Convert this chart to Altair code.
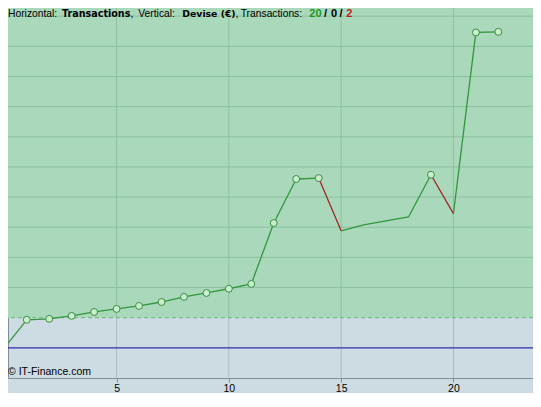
import altair as alt
import pandas as pd

# ---- data (vertical unit: € ) ----
trade_no = list(range(0, 23))
equity = [0, 930, 960, 1060, 1190, 1290, 1390, 1520, 1690, 1820, 1960, 2120,
          4140, 5600, 5630, 3880, 4080, 4210, 4340, 5740, 4450, 10460, 10480]
losing_trades = [15, 20]            # segments ending at these trades are losses
marked_trades = [1, 2, 3, 4, 5, 6, 7, 8, 9, 10, 11, 12, 13, 14, 19, 21, 22]
x_ticks = [5, 10, 15, 20]
start_level = 1000                  # dashed reference line
zero_level = 0                      # blue line
grid_levels = [2000, 3000, 4000, 5000, 6000, 7000, 8000, 9000, 10000, 11000]

W, H = 525, 370
X_DOM = [0.165, 0.165 + W / 22.456]
Y_DOM = [-1000, 11270]

GREEN_BG = "#a9d9ba"
LOW_BG = "#cddce2"
GRID_G = "#8dc09f"
GRID_L = "#a9bbc2"
AXIS_C = "#7e9198"
LINE_G = "#34963f"
LINE_R = "#a3262a"
FONT = "Liberation Sans"
BOLD_FONT = "DejaVu Sans"

xs = alt.Scale(domain=X_DOM, nice=False, zero=False)
ys = alt.Scale(domain=Y_DOM, nice=False, zero=False)

# segments
seg_rows = []
for i in range(1, len(trade_no)):
    seg_rows.append({
        "x": trade_no[i - 1], "y": equity[i - 1],
        "x2": trade_no[i], "y2": equity[i],
        "kind": "loss" if trade_no[i] in losing_trades else "win",
    })
seg_df = pd.DataFrame(seg_rows)
pts_df = pd.DataFrame({"x": [t for t in trade_no if t in marked_trades],
                       "y": [e for t, e in zip(trade_no, equity) if t in marked_trades]})

base = alt.Chart(pd.DataFrame({"d": [0]}))

bg = base.mark_rect(color=GREEN_BG).encode(
    x=alt.X("a:Q", scale=xs, axis=alt.Axis(values=x_ticks, format="d", title=None, grid=False,
                                          tickSize=4, tickColor=AXIS_C, domainColor=AXIS_C,
                                          labelFont=FONT, labelFontSize=10.5, labelColor="#000",
                                          labelPadding=1, labelFlush=False)),
    x2="b:Q",
    y=alt.Y("c:Q", scale=ys, axis=alt.Axis(labels=False, ticks=False, grid=False, title=None,
                                          domainColor=AXIS_C)),
    y2="e:Q",
).transform_calculate(a=str(X_DOM[0]), b=str(X_DOM[1]), c=str(start_level), e=str(Y_DOM[1]))

hgrid = alt.Chart(pd.DataFrame({"y": grid_levels})).mark_rule(color=GRID_G, strokeWidth=1).encode(
    y=alt.Y("y:Q", scale=ys))

vg_df = pd.DataFrame({"x": x_ticks})
vgrid_hi = alt.Chart(vg_df).mark_rule(color=GRID_G, strokeWidth=1).encode(
    x=alt.X("x:Q", scale=xs), y=alt.datum(start_level), y2=alt.datum(Y_DOM[1]))
vgrid_lo = alt.Chart(vg_df).mark_rule(color=GRID_L, strokeWidth=1).encode(
    x=alt.X("x:Q", scale=xs), y=alt.datum(Y_DOM[0]), y2=alt.datum(start_level))

dashed = base.mark_rule(color="#6cb67b", strokeDash=[4, 3], strokeWidth=1).encode(
    y=alt.datum(start_level))
blue = base.mark_rule(color="#2b2fae", strokeWidth=1.2).encode(y=alt.datum(zero_level))

segs = alt.Chart(seg_df).mark_rule(strokeWidth=1.3, clip=True).encode(
    x=alt.X("x:Q", scale=xs), y=alt.Y("y:Q", scale=ys), x2="x2:Q", y2="y2:Q",
    color=alt.Color("kind:N", scale=alt.Scale(domain=["win", "loss"], range=[LINE_G, LINE_R]),
                    legend=None))

pts = alt.Chart(pts_df).mark_point(shape="circle", filled=True, size=48, fill="#c9efcc",
                                   stroke="#3a8c45", strokeWidth=1, opacity=1).encode(
    x=alt.X("x:Q", scale=xs), y=alt.Y("y:Q", scale=ys))

# header text pieces: (text, x, font, weight, size, color)
title_parts = [
    ("Horizontal:", 0, FONT, "normal", 10.3, "#000"),
    ("Transactions", 54, BOLD_FONT, "bold", 9.6, "#000"),
    (",", 122.5, FONT, "normal", 10.3, "#000"),
    ("Vertical:", 130.3, FONT, "normal", 10.3, "#000"),
    ("Devise (€)", 174.3, BOLD_FONT, "bold", 9.3, "#000"),
    (",", 227.5, FONT, "normal", 10.3, "#000"),
    ("Transactions:", 232.7, FONT, "normal", 10.3, "#000"),
    ("20", 301.3, FONT, "bold", 11, "#1c961c"),
    ("/", 316, FONT, "bold", 11, "#000"),
    ("0", 323, FONT, "bold", 11, "#000"),
    ("/", 331.5, FONT, "bold", 11, "#000"),
    ("2", 338.3, FONT, "bold", 11, "#c21a1a"),
]
texts = []
for t, px, fnt, wgt, fs, col in title_parts:
    texts.append(base.mark_text(text=t, align="left", baseline="alphabetic", font=fnt,
                                fontSize=fs, fontWeight=wgt, color=col).encode(
        x=alt.value(px), y=alt.value(9)))

copyright = base.mark_text(text="© IT-Finance.com", align="left", baseline="alphabetic",
                           font=FONT, fontSize=10.5, color="#000").encode(
    x=alt.value(0), y=alt.value(367))

chart = alt.layer(bg, hgrid, vgrid_hi, vgrid_lo, dashed, blue, segs, pts, copyright, *texts).properties(
    width=W, height=H,
    autosize=alt.AutoSizeParams(type="none"),
    padding={"left": 0, "top": 0, "right": 0, "bottom": 15},
).configure(background=LOW_BG).configure_view(fill=LOW_BG, stroke=None)

chart.save("out.html", embed_options={"renderer": "svg", "actions": False})
